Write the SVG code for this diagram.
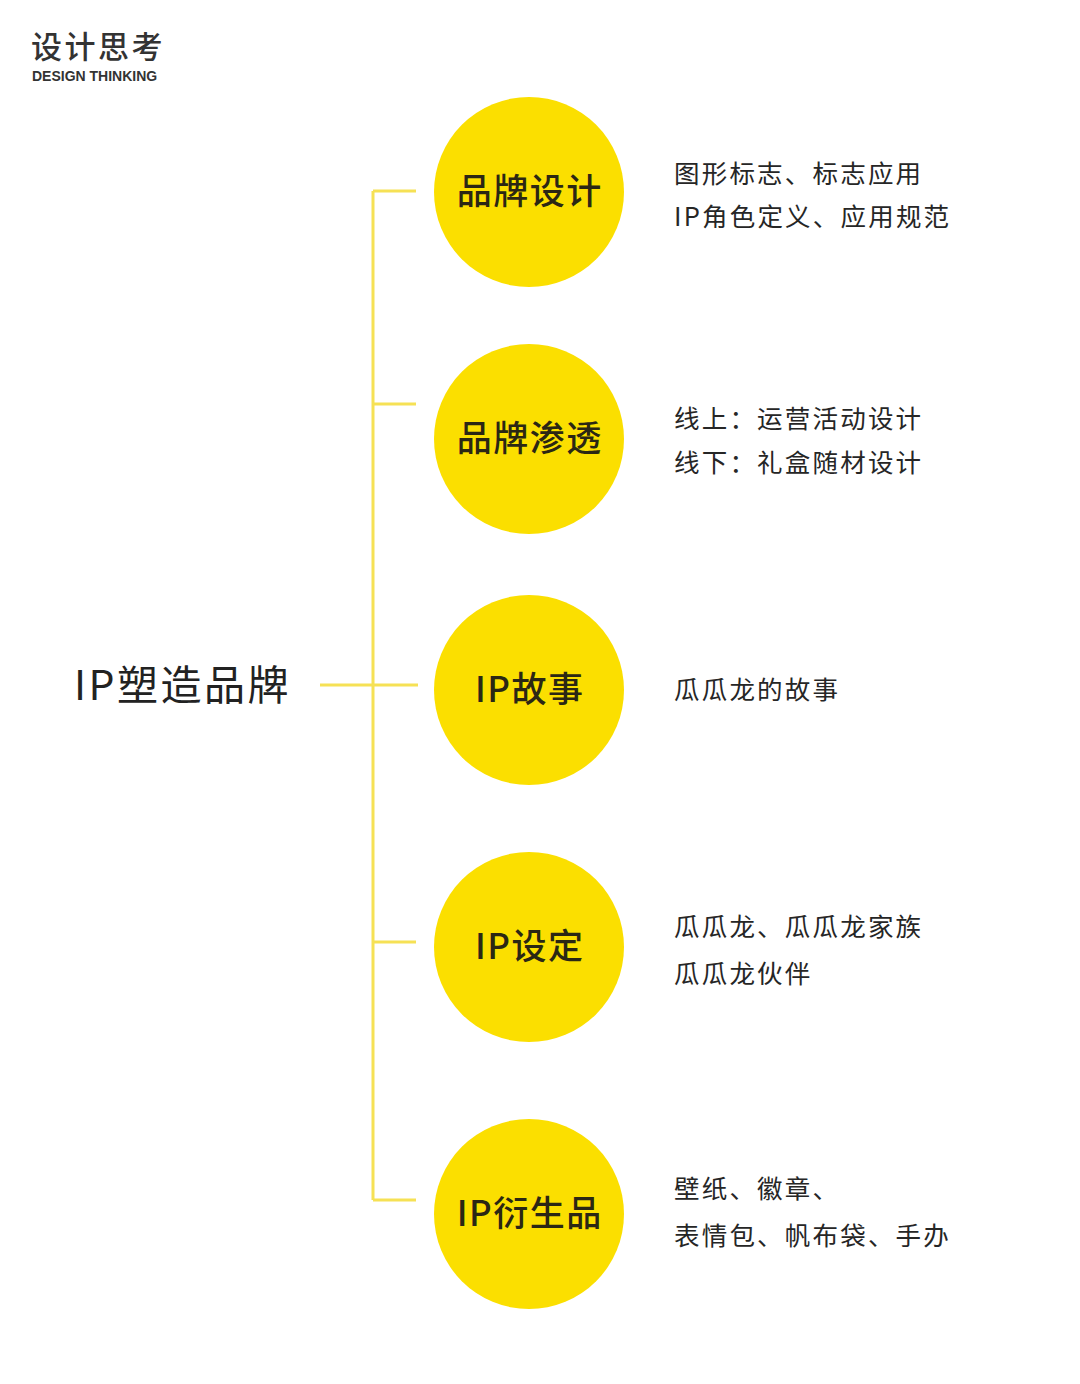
<svg xmlns="http://www.w3.org/2000/svg" width="1080" height="1384" viewBox="0 0 1080 1384">
<style>
.bg{fill:#ffffff}
.circ{fill:#fbdf00}
.ln{stroke:#f6e155;stroke-width:3;fill:none}
.cl{font-family:"Noto Sans CJK SC","Noto Sans",sans-serif;font-size:35px;font-weight:500;fill:#2b2714;text-anchor:middle;letter-spacing:1.5px}
.desc{font-family:"Noto Sans CJK SC","Noto Sans",sans-serif;font-size:25.5px;fill:#262626;letter-spacing:2.2px}
.main{font-family:"Noto Sans CJK SC","Noto Sans",sans-serif;font-size:41px;fill:#222222;letter-spacing:2.5px}
</style>
<rect class="bg" x="0" y="0" width="1080" height="1384"/>
<g id="header">
<text x="31" y="58" style="font-family:'Noto Sans CJK SC','Noto Sans',sans-serif;font-size:31px;font-weight:500;fill:#333333;letter-spacing:2.5px">设计思考</text>
<text x="32" y="81" style="font-family:'Liberation Sans',Arial,sans-serif;font-size:14px;font-weight:bold;fill:#333333">DESIGN THINKING</text>
</g>
<g id="connectors">
<line class="ln" x1="373" y1="191" x2="373" y2="1200"/>
<line class="ln" x1="373" y1="191" x2="416" y2="191"/>
<line class="ln" x1="373" y1="404" x2="416" y2="404"/>
<line class="ln" x1="320" y1="685" x2="418" y2="685"/>
<line class="ln" x1="373" y1="942" x2="416" y2="942"/>
<line class="ln" x1="373" y1="1200" x2="416" y2="1200"/>
</g>
<g id="root">
<text class="main" x="74" y="700">IP塑造品牌</text>
</g>
<g id="node1">
<circle class="circ" cx="529" cy="192" r="95"/>
<text class="cl" x="529.7" y="204">品牌设计</text>
<text class="desc" x="674" y="183">图形标志、标志应用</text>
<text class="desc" x="674" y="226">IP角色定义、应用规范</text>
</g>
<g id="node2">
<circle class="circ" cx="529" cy="439" r="95"/>
<text class="cl" x="529.7" y="451">品牌渗透</text>
<text class="desc" x="674" y="428">线上：运营活动设计</text>
<text class="desc" x="674" y="472">线下：礼盒随材设计</text>
</g>
<g id="node3">
<circle class="circ" cx="529" cy="690" r="95"/>
<text class="cl" x="529.7" y="702">IP故事</text>
<text class="desc" x="674" y="699">瓜瓜龙的故事</text>
</g>
<g id="node4">
<circle class="circ" cx="529" cy="947" r="95"/>
<text class="cl" x="529.7" y="959">IP设定</text>
<text class="desc" x="674" y="936">瓜瓜龙、瓜瓜龙家族</text>
<text class="desc" x="674" y="983">瓜瓜龙伙伴</text>
</g>
<g id="node5">
<circle class="circ" cx="529" cy="1214" r="95"/>
<text class="cl" x="529.7" y="1226">IP衍生品</text>
<text class="desc" x="674" y="1198">壁纸、徽章、</text>
<text class="desc" x="674" y="1245">表情包、帆布袋、手办</text>
</g>
</svg>
